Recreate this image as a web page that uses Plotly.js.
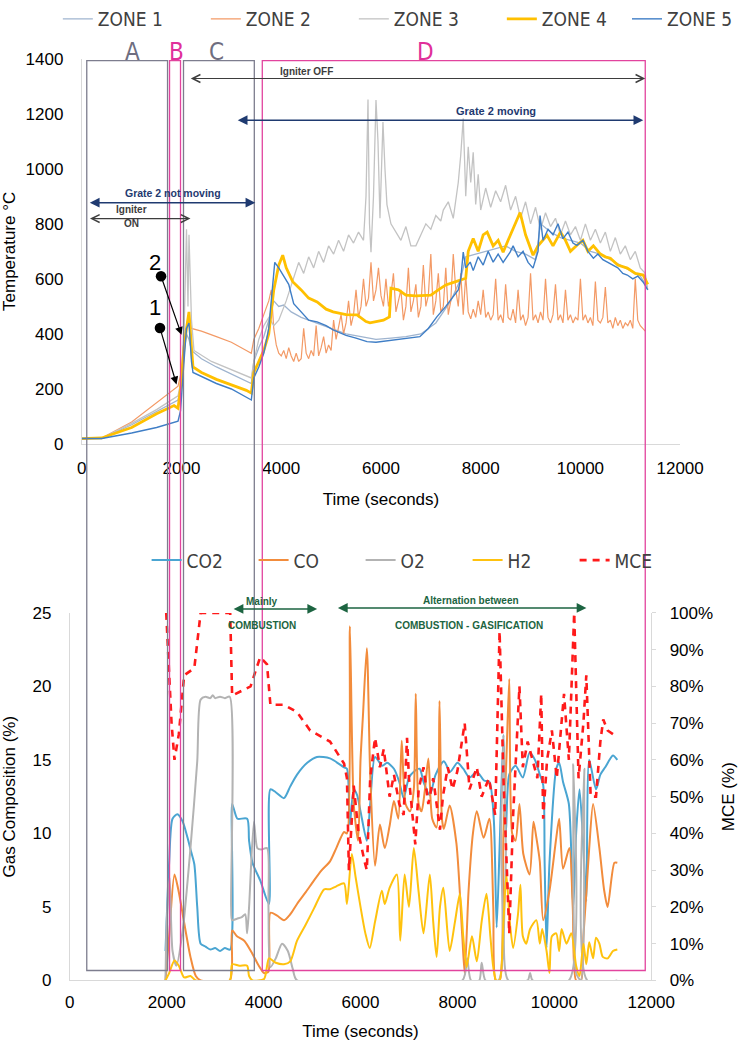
<!DOCTYPE html>
<html><head><meta charset="utf-8">
<script src="https://cdn.plot.ly/plotly-3.0.1.min.js"></script>
<style>html,body{margin:0;padding:0;background:#fff}#chart{width:738px;height:1041px}</style>
</head><body><div id="chart"></div>
<script>
// ---------- Top panel: furnace zone temperatures (°C) vs time (s) ----------
const zone1_t = [0,400,1000,1500,1930,1980,2050,2100,2150,2200,2400,2700,3000,3300,3400,3450,3550,3650,3750,3850,3950,4050,4200,4400,4700,5000,5300,5600,5900,6200,6500,6800,7100,7400,7600,7700,7900,8100,8300,8500,8700,8900,9100,9200,9400,9600,9800,10000,10200,10400,10600,10800,11000,11200,11350];
const zone1_v = [20,20,70,120,160,200,350,400,380,340,310,280,255,230,220,300,350,390,450,520,500,505,480,460,440,420,400,390,380,385,390,400,440,520,600,680,690,700,710,720,700,690,670,800,770,750,740,730,700,690,670,650,630,610,570];

const zone2_t = [0,400,1000,1500,1930,1980,2050,2100,2150,2200,2400,2700,3000,3300,3400,3450,3550,3650,3750,
  3800,3850,3900,3950,4000,4050,4100,4150,4200,4250,4300,4350,4400,4450,4500,4550,4600,4650,4700,4750,
  4800,4850,4900,4950,5000,5050,5100,5150,5200,5250,5300,5350,5400,5450,5500,5550,5600,5650,5700,5750,
  5800,5850,5900,5950,6000,6050,6100,6150,6200,6250,6300,6350,6400,6450,6500,6550,6600,6650,6700,6750,
  6800,6850,6900,6950,7000,7050,7100,7150,7200,7250,7300,7350,7400,7450,7500,7550,7600,7650,7700,7750,
  7800,7850,7900,7950,8000,8050,8100,8150,8200,8250,8300,8350,8400,8450,8500,8550,8600,8650,8700,8750,
  8800,8850,8900,8950,9000,9050,9100,9150,9200,9250,9300,9350,9400,9450,9500,9550,9600,9650,9700,9750,
  9800,9850,9900,9950,10000,10050,10100,10150,10200,10250,10300,10350,10400,10450,10500,10550,10600,10650,10700,10750,
  10800,10850,10900,10950,11000,11050,11100,11150,11200,11250,11300];
const zone2_v = [20,22,80,150,210,250,330,420,460,420,410,390,370,340,330,380,420,470,520,
  560,420,360,330,320,340,310,350,320,300,330,300,310,420,330,310,340,320,430,320,
  350,390,330,360,340,450,380,420,470,400,440,520,430,470,560,460,500,600,500,530,
  660,520,560,640,540,500,600,500,540,620,480,520,560,450,500,640,480,520,580,460,
  500,650,500,540,690,470,520,620,480,500,640,470,520,690,560,500,620,470,614,480,
  455,490,460,520,470,560,460,480,450,470,600,450,470,440,580,460,450,490,440,560,
  450,470,430,460,620,450,470,440,480,450,600,460,440,470,580,450,470,440,560,450,
  470,440,460,450,600,450,470,440,460,430,590,450,440,460,570,440,450,420,460,430,
  450,420,440,430,450,420,600,450,430,420,410];

const zone3_t = [0,400,1000,1500,1930,1980,2050,2100,2130,2150,2200,2250,2600,3000,3400,3450,3550,3650,3750,3850,3950,4100,4250,4350,4450,4550,4650,4750,4850,4950,5050,5150,5250,5350,5450,5550,5650,5700,5740,5770,5800,5850,5900,5940,5980,6040,6080,6120,6200,6300,6400,6500,6600,6700,6800,6900,7000,7100,7200,7250,7350,7450,7550,7600,7650,7700,7750,7800,7850,7900,7950,8000,8100,8200,8300,8400,8500,8600,8700,8800,8900,9000,9100,9200,9300,9400,9500,9600,9700,9800,9900,10000,10100,10200,10300,10400,10500,10600,10700,10800,10900,11000,11100,11200,11300,11350];
const zone3_v = [20,22,75,125,175,220,400,780,500,760,450,340,300,270,240,300,380,430,460,430,450,520,600,660,620,680,640,700,660,720,690,740,700,760,730,770,740,900,1252,800,697,900,1250,1100,820,1170,1000,870,800,770,740,790,720,720,760,800,780,830,810,850,880,820,950,1050,1183,900,1080,950,1060,870,980,850,930,860,920,880,940,850,900,820,880,800,860,780,840,790,820,760,810,760,790,740,800,740,780,730,770,700,750,690,720,670,700,640,620,560];

const zone4_t = [0,400,1000,1500,1850,1930,1980,2050,2100,2150,2200,2230,2400,2700,3000,3300,3400,3450,3550,3650,3750,3850,3950,4030,4100,4230,4400,4550,4720,4900,5040,5300,5520,5700,5780,5900,6050,6170,6200,6350,6500,6700,7000,7150,7300,7500,7700,7750,7850,7950,8050,8130,8250,8350,8450,8550,8650,8790,8900,9050,9150,9330,9450,9600,9700,9800,9930,10050,10150,10260,10400,10500,10600,10750,10940,11100,11260,11350];
const zone4_v = [20,22,60,110,140,130,200,350,420,480,350,280,260,235,215,195,185,260,300,340,400,560,650,686,640,590,560,530,516,490,480,470,469,445,440,445,450,462,566,560,541,538,541,560,578,590,602,700,747,700,760,770,720,740,697,740,780,841,760,686,720,758,720,770,740,700,722,740,700,720,690,680,675,650,639,620,614,580];

const zone5_t = [0,400,1000,1500,1930,1980,2050,2100,2150,2200,2230,2400,2700,3000,3300,3400,3450,3550,3650,3750,3870,3950,4050,4150,4250,4400,4550,4720,4900,5040,5300,5500,5720,5900,6100,6240,6500,6780,6950,7120,7300,7450,7550,7600,7650,7700,7790,7850,7950,8050,8150,8250,8350,8450,8590,8650,8750,8850,8950,9050,9150,9190,9250,9350,9450,9550,9650,9750,9850,9930,10050,10150,10260,10350,10450,10550,10650,10750,10850,10940,11050,11150,11260,11350];
const zone5_v = [20,20,40,60,83,120,300,420,440,300,260,245,220,200,170,160,240,280,330,420,660,640,610,580,510,480,450,444,430,415,395,385,372,370,375,379,385,390,420,462,500,534,560,600,697,640,661,630,680,650,700,661,690,660,697,720,680,700,660,639,700,830,740,780,760,800,746,770,730,722,740,700,675,690,670,660,650,640,620,614,600,610,588,560];

// ---------- Bottom panel: gas composition (%) and MCE (%) vs time (s) ----------
const co2_t = [1975,2050,2120,2220,2330,2430,2500,2570,2630,2700,2800,2900,3000,3100,3200,3310,3350,3400,3460,3660,3700,3770,3930,4110,4140,4250,4420,4550,4690,4900,5100,5370,5660,5720,5780,5860,5930,6000,6130,6200,6300,6450,6550,6690,6800,6890,7000,7100,7220,7300,7430,7550,7720,7850,8000,8120,8250,8400,8550,8660,8750,8810,8870,8950,9000,9070,9200,9350,9490,9600,9700,9770,9800,9840,9900,10040,10100,10180,10300,10390,10450,10520,10600,10660,10720,10860,10950,11050,11210,11300];
const co2_v = [2,8,11,11.3,10.8,9.7,8.8,7.9,5,2.5,2.3,2.1,2.2,2.0,2.2,2.1,12,11.5,11,11,9.5,8,6.8,5.2,13,12.8,12.4,13.2,14,14.8,15.2,15.1,14.5,14.4,10.6,13,12.6,11.5,9.5,12,15.2,14.6,14.8,14.4,13.5,12.4,13.8,14.2,14.4,13.5,12.6,14,14.9,14.2,14.8,14.4,13.8,14.2,13.6,13.5,11,3.6,9,16.7,10,14,14.6,13.8,15.5,15,14,13.3,8,2.2,8,14.4,14.8,13.5,12,4.9,10,13,9,5.4,15,13,14,14.5,15.3,15];

const co_t = [1975,2050,2160,2250,2330,2490,2600,2700,3300,3350,3450,3600,3770,3900,4010,4100,4140,4280,4420,4550,4690,4870,5040,5200,5370,5500,5660,5720,5780,5860,5950,6000,6050,6130,6200,6300,6400,6500,6600,6690,6780,6850,6930,7020,7100,7140,7200,7260,7330,7400,7480,7570,7630,7680,7720,7840,7980,8100,8150,8230,8320,8400,8540,8660,8740,8790,8870,8950,9010,9070,9130,9200,9280,9360,9490,9570,9630,9700,9770,9900,10040,10100,10180,10310,10380,10450,10550,10600,10660,10720,10800,10930,11030,11100,11240,11300];
const co_v = [0,3,7.2,6,4.5,1.6,0.3,0,0,3.4,3,2.7,1.8,1,0.5,0.6,4.6,4.4,4.1,4.5,5.2,6,6.8,7.5,8.1,9,10.1,10,24.1,12,9.5,15,18,22.6,14,7.8,10.6,9,10.5,12.2,11,16.3,12,11.5,13,19.5,12,11.5,13,15.1,11,10.4,19,11,10.3,11.9,9.3,3,0.5,6.1,10,11.5,9.7,11,5,0,0,10,15,20.5,10,9.5,12,8.6,7.2,10.8,9.7,8.1,4.1,6.1,9.7,11,7.6,9,5,0,0,3,5.9,9,12,9,6.1,5,8,8];

const o2_t = [1975,2000,2060,2120,2200,2330,2490,2630,2700,2800,2900,2950,3000,3100,3200,3300,3330,3350,3450,3550,3620,3660,3700,3800,3870,3950,4070,4100,4140,4250,4380,4500,4600,4690,8100,8200,8280,8450,8500,8580,8850,8900,8950,9000,9050,9450,9500,9550,10300,10390,10450,10550,10620,10680,11300];
const o2_v = [0,4,7,2,1,3.4,9,14.9,19.1,19.3,19.2,19.4,19.2,19.3,19.2,19.3,5,4.1,4.2,4.3,4.5,3.2,5,10.8,9,8.9,9,5,0.9,1.5,2.5,2,0.8,0,0,1.5,0,0,1.2,0,0,10,16.7,9,0,0,0.5,0,0,14.7,0.5,0,14.4,0,0];

const h2_t = [1975,2050,2160,2250,2360,2490,2600,3300,3350,3500,3660,3700,3770,4010,4110,4250,4420,4550,4690,4870,5040,5250,5370,5500,5660,5720,5820,5900,6000,6100,6190,6300,6440,6500,6600,6750,6820,6910,7000,7100,7200,7300,7430,7500,7570,7640,7710,7840,7950,8050,8120,8190,8300,8400,8500,8600,8680,8740,8800,8870,8950,9010,9080,9150,9250,9300,9350,9420,9500,9630,9700,9750,9840,9900,9950,10040,10100,10150,10250,10350,10450,10520,10600,10660,10720,10800,10860,10930,11000,11100,11210,11300];
const h2_v = [0,0.5,1.35,1,0.2,0.3,0,0,1.1,1,1,0.3,0,0.1,1.5,1.2,1.1,1.3,2.7,3.8,4.9,6.2,6.2,6.4,6.6,5.2,8.6,7,5,3.2,2.2,4,6.1,5.2,6.3,7.2,2.7,7.2,5,9,6,3.2,7.2,4,1.6,5,6.3,2,4,5.9,3,0.9,3,1.3,4,5.9,3,0.9,0,0,4,7.2,4,2.2,4.5,6.5,3,2.5,3.5,4.1,2.5,3.5,2,0.5,3,3.2,2,3.5,2.5,3.2,1,0.3,2.5,1.1,2.6,1.5,2.9,2.5,1.6,1.5,2,2.1];

const mce_t = [1990,2100,2160,2250,2360,2570,2700,3310,3350,3730,3930,4070,4140,4420,4690,4960,5370,5660,5720,5760,5860,5960,6090,6130,6200,6300,6400,6480,6600,6690,6800,6890,6960,7000,7130,7200,7300,7400,7500,7640,7700,7800,7900,8000,8150,8250,8400,8500,8650,8780,8870,8950,9070,9150,9280,9350,9450,9550,9650,9730,9770,9850,9950,10050,10200,10300,10410,10500,10600,10660,10750,10860,10950,11010,11100,11210];
const mce_v = [100,70,60,67,83,85,100,100,77.5,80,88,86,75,75,73,68,65,59,55,30,53,40,32,30,55,66,58,63,50,56,48,45,66,55,37,52,58,48,55,41,50,58,52,57,70,52,58,50,55,45,95,55,12.7,45,80,58,65,60,55,78,44,60,68,55,78,60,100,55,70,83,50,50,65,71,68,67];

const time_ticks = [0,2000,4000,6000,8000,10000,12000];

// ---------- styling ----------
const W = 738, H = 1041;
const px = v => v / W, py = v => 1 - v / H;
const FONT = 'Liberation Sans, Arial, Helvetica, sans-serif';
const NARROW = '"Liberation Sans Narrow", "DejaVu Sans Condensed", "Liberation Sans", sans-serif';

function topTrace(name, t, v, color, width, legend) {
  return {type:'scatter', mode:'lines', name, x:t, y:v, xaxis:'x', yaxis:'y', legend:legend||'legend',
          line:{color, width}, hoverinfo:'skip'};
}
function botTrace(name, t, v, color, width, yaxis, extra) {
  return Object.assign({type:'scatter', mode:'lines', name, x:t, y:v, xaxis:'x2', yaxis, legend:'legend2',
          line:{color, width, shape:'spline', smoothing:0.7}, hoverinfo:'skip'}, extra||{});
}

const data = [
  topTrace('ZONE 1', zone1_t, zone1_v, '#9fb4cf', 1.3),
  topTrace('ZONE 2', zone2_t, zone2_v, '#f39a66', 1.2),
  topTrace('ZONE 3', zone3_t, zone3_v, '#c3c3c3', 1.3),
  topTrace('ZONE 4', zone4_t, zone4_v, '#ffc000', 2.8),
  topTrace('ZONE 5', zone5_t, zone5_v, '#3f7ec6', 1.4, 'legend3'),
  botTrace('CO2', co2_t, co2_v, '#4aa5d2', 2, 'y2'),
  botTrace('CO', co_t, co_v, '#f28c3c', 2, 'y2'),
  botTrace('O2', o2_t, o2_v, '#b3b3b3', 2, 'y2'),
  botTrace('H2', h2_t, h2_v, '#ffc20e', 2, 'y2'),
  botTrace('MCE', mce_t, mce_v, '#ff1a1a', 2.6, 'y3', {line:{color:'#ff1a1a', width:2.6, dash:'7px,6px'}})
];

const axisBase = {showgrid:false, zeroline:false, showline:true, linecolor:'#d9d9d9', linewidth:1,
  ticks:'', tickformat:'d', tickfont:{family:FONT, size:17, color:'#000'}};

const boxes = [
  {x0:87, x1:168, c:'#7d7d8e'},
  {x0:170, x1:181, c:'#e2449e'},
  {x0:184, x1:255, c:'#7d7d8e'},
  {x0:263, x1:647, c:'#e2449e'}
];
const shapes = boxes.map(b => ({type:'rect', xref:'paper', yref:'paper', x0:px(b.x0), x1:px(b.x1),
  y0:py(970), y1:py(54), line:{color:b.c, width:1.3}, fillcolor:'rgba(0,0,0,0)', layer:'above'}));

function txt(text, x, y, size, color, bold, extra) {
  return Object.assign({xref:'paper', yref:'paper', x:px(x), y:py(y), xanchor:'center', yanchor:'middle',
    text: bold ? '<b>'+text+'</b>' : text, showarrow:false,
    font:{family:FONT, size, color}}, extra||{});
}
function arrow(x1, y1, x0, y0, color, head, width, both, extra) {
  return Object.assign({xref:'paper', yref:'paper', x:px(x1), y:py(y1), axref:'pixel', ayref:'pixel',
    ax:x0-x1, ay:y0-y1, text:'', showarrow:true, arrowhead:head, startarrowhead:head,
    arrowside: both ? 'end+start' : 'end', arrowcolor:color, arrowwidth:width, arrowsize:1.3, startarrowsize:1.3,
    standoff:0, startstandoff:0}, extra||{});
}

const NAVY = '#1f3a70', DGRAY = '#3d3d3d', GREEN = '#1c6441';
const annotations = [
  txt('A', 133, 45, 24, '#6e6e80', false, {font:{family:NARROW, size:24, color:'#6e6e80'}}),
  txt('B', 177, 45, 24, '#e0309a', false, {font:{family:NARROW, size:24, color:'#e0309a'}}),
  txt('C', 217, 45, 24, '#6e6e80', false, {font:{family:NARROW, size:24, color:'#6e6e80'}}),
  txt('D', 427, 45, 24, '#e0309a', false, {font:{family:NARROW, size:24, color:'#e0309a'}}),
  txt('Igniter OFF', 307, 65, 10, DGRAY, true),
  arrow(647, 72, 191, 72, DGRAY, 5, 1.2, true),
  txt('Grate 2 moving', 497, 105, 11, NAVY, true),
  arrow(645, 114, 238, 114, NAVY, 2, 1.5, true),
  txt('Grate 2 not moving', 173, 187, 10.5, NAVY, true),
  arrow(256, 197, 89, 197, NAVY, 2, 1.5, true),
  txt('Igniter', 132, 204, 10, DGRAY, true),
  txt('ON', 132, 218, 10, DGRAY, true),
  arrow(191, 213, 89, 213, DGRAY, 5, 1.2, true),
  txt('2', 155, 257, 22, '#000'),
  arrow(182, 330, 161, 270, '#000', 2, 1.2, true, {startarrowhead:6, startarrowsize:2.2}),
  txt('1', 155, 303, 22, '#000'),
  arrow(177, 380, 160, 322, '#000', 2, 1.2, true, {startarrowhead:6, startarrowsize:2.2}),
  txt('Mainly', 263, 599, 10, GREEN, true),
  txt('COMBUSTION', 263, 623, 10, GREEN, true),
  arrow(318, 606, 233, 606, GREEN, 2, 1.5, true),
  txt('Alternation between', 472, 598, 10, GREEN, true),
  txt('COMBUSTION - GASIFICATION', 470, 623, 10, GREEN, true),
  arrow(588, 605, 338, 605, GREEN, 2, 1.5, true)
];

const legendBase = {orientation:'h', xanchor:'left', yanchor:'middle', bgcolor:'rgba(0,0,0,0)',
  borderwidth:0, itemwidth:30, entrywidthmode:'pixels', traceorder:'normal',
  itemclick:false, itemdoubleclick:false, font:{family:NARROW, size:19, color:'#404040'}};

const layout = {
  width:W, height:H, margin:{l:0, r:0, t:0, b:0, pad:0},
  paper_bgcolor:'#ffffff', plot_bgcolor:'rgba(0,0,0,0)',
  font:{family:FONT, size:17, color:'#000'},
  showlegend:true,
  legend: Object.assign({}, legendBase, {x:px(58), y:py(12), entrywidth:103}),
  legend3: Object.assign({}, legendBase, {x:px(629), y:py(12)}),
  legend2: Object.assign({}, legendBase, {x:px(147), y:py(557), entrywidth:62}),
  xaxis: Object.assign({}, axisBase, {domain:[px(82), px(682)], range:[0,12000], tickvals:time_ticks,
    anchor:'y', ticklabelstandoff:9, title:{text:'Time (seconds)', font:{family:FONT, size:17}, standoff:15}}),
  yaxis: Object.assign({}, axisBase, {domain:[py(440), py(52)], range:[0,1400], dtick:200,
    anchor:'x', ticklabelstandoff:14, title:{text:'Temperature °C', font:{family:FONT, size:17}, standoff:10}}),
  xaxis2: Object.assign({}, axisBase, {domain:[px(70), px(653)], range:[0,12000], tickvals:time_ticks,
    anchor:'y2', ticklabelstandoff:6, title:{text:'Time (seconds)', font:{family:FONT, size:17}, standoff:18}}),
  yaxis2: Object.assign({}, axisBase, {domain:[py(980), py(610)], range:[0,25], dtick:5,
    anchor:'x2', ticklabelstandoff:14, title:{text:'Gas Composition (%)', font:{family:FONT, size:17}, standoff:12}}),
  yaxis3: Object.assign({}, axisBase, {overlaying:'y2', side:'right', anchor:'x2', range:[0,100], dtick:10,
    ticksuffix:'%', ticks:'outside', ticklen:4, tickcolor:'#d9d9d9', ticklabelstandoff:10,
    title:{text:'MCE (%)', font:{family:FONT, size:17}, standoff:12}}),
  shapes, annotations
};

Plotly.newPlot('chart', data, layout, {displayModeBar:false, staticPlot:true});
</script>
</body></html>
